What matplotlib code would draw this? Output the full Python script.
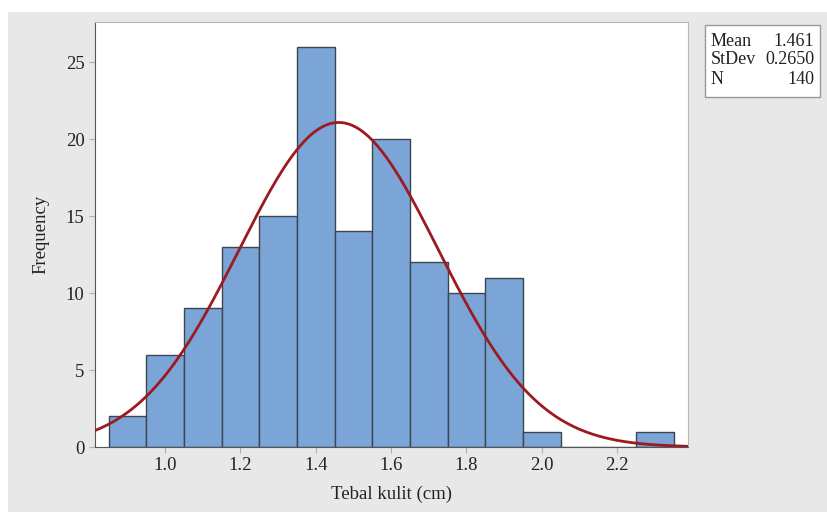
import numpy as np
import matplotlib.pyplot as plt
from matplotlib.patches import Rectangle

# histogram of skin thickness, bin width 0.1
bin_centers = [0.9, 1.0, 1.1, 1.2, 1.3, 1.4, 1.5, 1.6, 1.7, 1.8, 1.9, 2.0, 2.1, 2.2, 2.3]
counts = [2, 6, 9, 13, 15, 26, 14, 20, 12, 10, 11, 1, 0, 0, 1]
mean = 1.461
stdev = 0.2650
n = 140
bin_width = 0.1
xticks = [1.0, 1.2, 1.4, 1.6, 1.8, 2.0, 2.2]
yticks = [0, 5, 10, 15, 20, 25]

plt.rcParams['font.family'] = ['Liberation Serif', 'DejaVu Serif']

fig = plt.figure(figsize=(8.27, 5.15), dpi=100)
fig.patches.append(Rectangle((8 / 827, 3 / 515), 1 - 8 / 827, 1 - 15 / 515,
                             transform=fig.transFigure, facecolor='#e8e8e8',
                             edgecolor='none', zorder=-1))

ax = fig.add_axes([95 / 827, 1 - 447 / 515, 593 / 827, 425 / 515])
ax.bar(bin_centers, counts, width=bin_width, color='#7ba5d6',
       edgecolor='#3c4550', linewidth=1.0, zorder=2)

# fitted normal curve scaled to counts
xs = np.linspace(0.81, 2.385, 400)
pdf = n * bin_width / (stdev * np.sqrt(2 * np.pi)) * np.exp(-0.5 * ((xs - mean) / stdev) ** 2)
ax.plot(xs, pdf, color='#9c1a20', linewidth=2.0, zorder=3)

ax.set_xlim(0.814, 2.388)
ax.set_ylim(0, 27.6)
ax.set_xticks(xticks)
ax.set_xticklabels([f"{t:.1f}" for t in xticks])
ax.set_yticks(yticks)
ax.tick_params(direction='out', length=4, color='#b0b0b0', labelsize=13.5, labelcolor='#222222')
for s in ['top', 'right']:
    ax.spines[s].set_color('#b8b8b8')
for s in ['left', 'bottom']:
    ax.spines[s].set_color('#555555')
ax.set_xlabel("Tebal kulit (cm)", fontsize=13.5, color='#222222', labelpad=8)
ax.set_ylabel("Frequency", fontsize=13.5, color='#222222', labelpad=12)

# stats box
fig.patches.append(Rectangle((705 / 827, 1 - 97 / 515), 115 / 827, 72 / 515,
                             transform=fig.transFigure, facecolor='white',
                             edgecolor='#999999', linewidth=1.0))
labels = ["Mean", "StDev", "N"]
values = [f"{mean:.3f}", f"{stdev:.4f}", f"{n}"]
for i, (lab, val) in enumerate(zip(labels, values)):
    y = 1 - (41 + i * 19) / 515
    fig.text(711 / 827, y, lab, fontsize=13, va='center', ha='left', color='#222222')
    fig.text(814 / 827, y, val, fontsize=13, va='center', ha='right', color='#222222')

fig.savefig("out.png", dpi=100)
